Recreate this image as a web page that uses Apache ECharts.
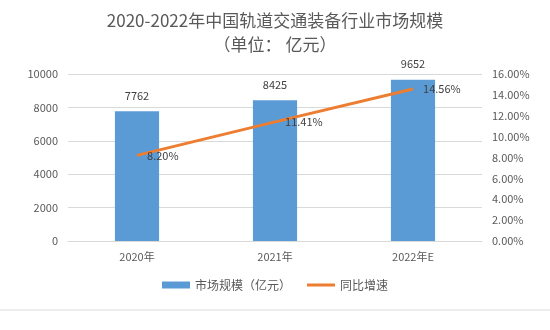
<!DOCTYPE html>
<html><head><meta charset="utf-8">
<script src="https://cdn.jsdelivr.net/npm/echarts@6/dist/echarts.min.js"></script>
<style>html,body{margin:0;padding:0;background:#fff}#c{width:550px;height:330px}</style>
</head><body><div id="c"></div>
<script>
var categories = ['2020年', '2021年', '2022年E'];
var marketSize = [7762, 8425, 9652];
var growthRate = [8.20, 11.41, 14.56];
var leftTicks = [0, 2000, 4000, 6000, 8000, 10000];
var rightTicks = [0, 2, 4, 6, 8, 10, 12, 14, 16];

var font = '"Microsoft YaHei","Noto Sans CJK SC",sans-serif';
var chart = echarts.init(document.getElementById('c'));
chart.setOption({
  animation: false,
  textStyle: {fontFamily: font},
  title: {
    text: '2020-2022年中国轨道交通装备行业市场规模\n（单位： 亿元）',
    left: 'center', top: 4,
    textStyle: {fontSize: 17, fontWeight: 'normal', color: '#595959', lineHeight: 24, fontFamily: font}
  },
  legend: {
    bottom: 34, left: 'center', itemGap: 16,
    itemWidth: 28, itemHeight: 7,
    textStyle: {color: '#595959', fontSize: 12},
    data: [
      {name: '市场规模（亿元）', icon: 'rect'},
      {name: '同比增速', icon: 'path://M0,0 L28,0 L28,3 L0,3 Z', itemStyle: {color: '#ed7d31'}}
    ]
  },
  grid: {left: 68, right: 68, top: 74, bottom: 89},
  xAxis: {
    type: 'category', data: categories,
    axisLine: {lineStyle: {color: '#d9d9d9'}},
    axisTick: {show: false},
    axisLabel: {color: '#595959', fontSize: 11, margin: 10}
  },
  yAxis: [{
    type: 'value', min: leftTicks[0], max: leftTicks[leftTicks.length - 1], interval: 2000,
    axisLine: {show: false}, axisTick: {show: false},
    axisLabel: {color: '#595959', fontSize: 11, margin: 10,
      formatter: function(v){ return String(v); }},
    splitLine: {lineStyle: {color: '#d9d9d9'}}
  }, {
    type: 'value', min: rightTicks[0], max: rightTicks[rightTicks.length - 1], interval: 2,
    axisLine: {show: false}, axisTick: {show: false},
    axisLabel: {color: '#595959', fontSize: 11, margin: 10,
      formatter: function(v){ return v.toFixed(2) + '%'; }},
    splitLine: {show: false}
  }],
  series: [{
    name: '市场规模（亿元）', type: 'bar', data: marketSize,
    barWidth: '32%',
    itemStyle: {color: '#5b9bd5'},
    label: {show: true, position: 'top', distance: 10, color: '#404040', fontSize: 11}
  }, {
    name: '同比增速', type: 'line', yAxisIndex: 1, data: growthRate,
    symbol: 'circle', symbolSize: 0.1, showSymbol: true,
    lineStyle: {color: '#ed7d31', width: 3},
    itemStyle: {color: '#ed7d31'},
    label: {show: true, position: 'right', distance: 10, color: '#404040', fontSize: 11,
      formatter: function(p){ return p.value.toFixed(2) + '%'; }}
  }],
  graphic: [{
    type: 'line', shape: {x1: 0, y1: 310, x2: 550, y2: 310},
    style: {stroke: '#d9d9d9', lineWidth: 1}
  }]
});
</script></body></html>
